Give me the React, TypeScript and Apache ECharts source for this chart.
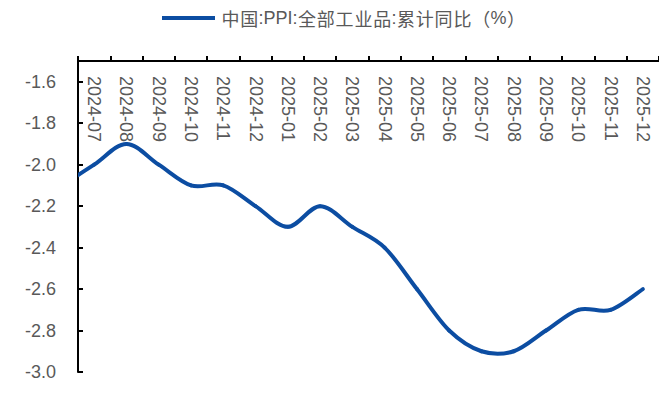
import React, { useEffect, useRef } from "react";
import * as echarts from "echarts";

const categories = [
  "2024-06", "2024-07", "2024-08", "2024-09", "2024-10", "2024-11", "2024-12",
  "2025-01", "2025-02", "2025-03", "2025-04", "2025-05", "2025-06",
  "2025-07", "2025-08", "2025-09", "2025-10", "2025-11", "2025-12",
];
const values = [
  -2.1, -2.0, -1.9, -2.0, -2.1, -2.1, -2.2,
  -2.3, -2.2, -2.3, -2.4, -2.6, -2.8,
  -2.9, -2.9, -2.8, -2.7, -2.7, -2.6,
];
const seriesName = "中国:PPI:全部工业品:累计同比（%）";

const FONT = '"Liberation Sans", Arial, "Noto Sans CJK SC", sans-serif';
const CJK_FONT = '"Noto Sans CJK SC", sans-serif';
const LINE_COLOR = "#0C4DA2";

// split legend text into rich-text tokens: CJK chars get slight spacing
function legendRich(s: string): string {
  let out = "";
  let latin = "";
  for (const ch of s) {
    if (/[\u3000-\u9fff\uff00-\uffef]/.test(ch)) {
      if (latin) {
        out += "{l|" + latin + "}";
        latin = "";
      }
      out += "{c|" + ch + "}";
    } else {
      latin += ch;
    }
  }
  if (latin) out += "{l|" + latin + "}";
  return out;
}

export default function App() {
  const ref = useRef<HTMLDivElement>(null);
  useEffect(() => {
    if (!ref.current) return;
    const chart = echarts.init(ref.current, undefined, { renderer: "svg" });
    const n = values.length;
    chart.setOption({
      animation: false,
      backgroundColor: "#ffffff",
      legend: {
        top: 9,
        left: 162,
        padding: 0,
        icon: "rect",
        itemWidth: 53,
        itemHeight: 4,
        formatter: (name: string) => legendRich(name),
        textStyle: {
          color: "#595959",
          fontSize: 18,
          fontFamily: FONT,
          padding: [0, 0, 0, 1],
          rich: {
            c: { fontSize: 18, fontFamily: CJK_FONT, color: "#595959", padding: [0, 0.4, 0, 0.4] },
            l: { fontSize: 18, fontFamily: FONT, color: "#595959" },
          },
        },
        data: [{ name: seriesName, itemStyle: { color: LINE_COLOR } }],
      },
      grid: { left: 78, right: 0, top: 61, bottom: 28, containLabel: false },
      xAxis: {
        type: "category",
        position: "top",
        data: categories,
        min: 1,
        boundaryGap: true,
        axisLine: { show: true, lineStyle: { color: "#000", width: 2 } },
        axisTick: { show: true, length: 5, lineStyle: { color: "#000", width: 2 } },
        axisLabel: {
          inside: true,
          rotate: 90,
          margin: 15,
          color: "#595959",
          fontSize: 18,
          fontFamily: FONT,
          interval: 0,
        },
        splitLine: { show: false },
      },
      yAxis: {
        type: "value",
        min: -3.0,
        max: -1.5,
        interval: 0.2,
        axisLine: { show: true, lineStyle: { color: "#000", width: 2 } },
        axisTick: { show: true, inside: true, length: 5, lineStyle: { color: "#000", width: 2 } },
        axisLabel: {
          showMaxLabel: false,
          margin: 22,
          color: "#595959",
          fontSize: 18,
          fontFamily: FONT,
          formatter: (v: number) => v.toFixed(1),
        },
        splitLine: { show: false },
      },
      series: [
        {
          name: seriesName,
          type: "custom",
          clip: true,
          itemStyle: { color: LINE_COLOR },
          encode: { x: 0, y: 1 },
          data: values.map((v, i) => [i, v]),
          renderItem: (params: any, api: any) => {
            const i = params.dataIndex;
            if (i === 0) return { type: "group", children: [] };
            const pt = (k: number) => {
              const kk = Math.max(0, Math.min(n - 1, k));
              return api.coord([kk, values[kk]]);
            };
            const p0 = pt(i - 2);
            const p1 = pt(i - 1);
            const p2 = pt(i);
            const p3 = pt(i + 1);
            const t = 1 / 6;
            return {
              type: "bezierCurve",
              shape: {
                x1: p1[0],
                y1: p1[1],
                x2: p2[0],
                y2: p2[1],
                cpx1: p1[0] + (p2[0] - p0[0]) * t,
                cpy1: p1[1] + (p2[1] - p0[1]) * t,
                cpx2: p2[0] - (p3[0] - p1[0]) * t,
                cpy2: p2[1] - (p3[1] - p1[1]) * t,
              },
              style: { stroke: LINE_COLOR, lineWidth: 4, fill: null, lineCap: "round" },
            };
          },
        },
      ],
    });
    return () => chart.dispose();
  }, []);
  return (
    <div
      ref={ref}
      style={{ position: "absolute", left: 0, top: 0, width: 659, height: 400 }}
    />
  );
}
